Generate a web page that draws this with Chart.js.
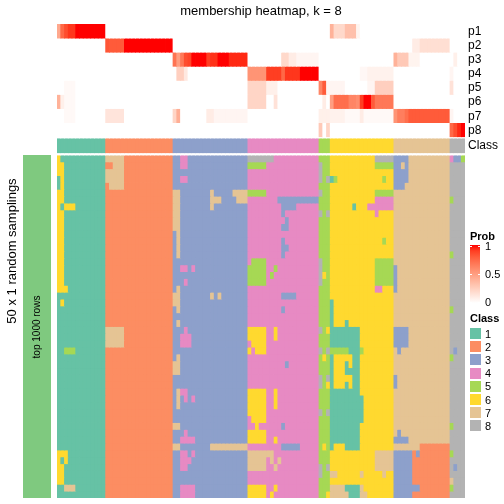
<!DOCTYPE html>
<html lang="en">
<head>
  <meta charset="UTF-8" />
  <title>membership heatmap, k = 8</title>
  <script src="https://cdn.jsdelivr.net/npm/chart.js"></script>
  <style>
    body {
      margin: 0;
      background: #ffffff;
      font-family: 'Liberation Sans', Arial, sans-serif;
      color: #000;
    }

    #wrap {
      position: relative;
      width: 504px;
      height: 504px;
      overflow: hidden;
    }

    canvas {
      position: absolute;
      left: 0;
      top: 0;
    }

    .txt {
      position: absolute;
      white-space: nowrap;
      line-height: 1;
    }

    .rowlab {
      left: 468px;
      font-size: 12px;
      transform: translateY(-50%);
    }

    .rot {
      transform: translate(-50%, -50%) rotate(-90deg);
    }

    .legtitle {
      left: 470px;
      font-size: 11px;
      font-weight: bold;
    }

    .legtick {
      left: 485px;
      font-size: 11px;
      transform: translateY(-50%);
    }

    .swatch {
      position: absolute;
      left: 470px;
      width: 11px;
      height: 11px;
    }
  </style>
</head>
<body>

  <div id="wrap">
    <canvas id="annoChart" width="504" height="504"></canvas>
    <canvas id="heatChart" width="504" height="504"></canvas>

    <div class="txt" style="left:261px; top:4px; font-size:13px; transform:translateX(-50%);">membership heatmap, k = 8</div>
    <div class="txt rot" style="left:11px; top:251px; font-size:13px;">50 x 1 random samplings</div>
    <div class="txt rot" style="left:37px; top:327px; font-size:10px;">top 1000 rows</div>

    <div id="labels"></div>
    <div id="legend"></div>
  </div>

  <script>
    // ---- data ----
    const rowNames = ['p1', 'p2', 'p3', 'p4', 'p5', 'p6', 'p7', 'p8'];
    const classNames = ['1', '2', '3', '4', '5', '6', '7', '8'];
    const classColors = ['#66C2A5', '#FC8D62', '#8DA0CB', '#E78AC3', '#A6D854', '#FFD92F', '#E5C494', '#B3B3B3'];
    const probTicks = ['1', '0.5', '0'];

    // consensus class of each column, as [class, how many columns]
    const classBlocks = [[1, 13], [2, 18], [3, 20], [4, 19], [5, 3], [6, 17], [7, 15], [8, 4]];

    // membership probability, per row: [fromCol, toCol, prob]; everything else is 0
    const p1 = [[0,0,0.45],[1,1,0.75],[2,2,0.85],[3,4,0.92],[5,12,1],[73,73,0.4],[74,76,0.2],[77,79,0.33],[80,80,0.06]];
    const p2 = [[13,13,0.82],[14,17,0.8],[18,30,1],[95,96,0.1],[97,104,0.17]];
    const p3 = [[31,31,0.7],[32,32,0.5],[33,33,0.68],[34,34,0.85],[35,35,0.88],[36,39,1],[40,40,0.9],[41,42,0.93],[43,45,1],[46,50,0.95],
                [60,61,0.2],[62,63,0.1],[64,69,0.05],[90,90,0.4],[91,93,0.28],[94,96,0.06],[106,106,0.08]];
    const p4 = [[32,33,0.25],[34,34,0.12],[51,55,0.55],[56,59,0.9],[60,60,0.75],[61,64,0.92],[65,69,1],[81,82,0.04],[83,89,0.07],[105,105,0.05]];
    const p5 = [[2,4,0.03],[51,55,0.22],[56,58,0.08],[70,70,0.62],[71,71,0.8],[72,72,0.05],[73,76,0.05],[83,84,0.05],[85,89,0.25],[105,105,0.15]];
    const p6 = [[0,0,0.4],[1,1,0.08],[2,4,0.03],[51,55,0.22],[58,58,0.15],[71,71,0.1],[73,73,0.5],[74,77,0.72],[78,79,0.62],[80,80,0.58],
                [81,81,0.9],[82,83,1],[84,84,0.8],[85,89,0.68]];
    const p7 = [[2,4,0.03],[13,17,0.14],[31,31,0.22],[32,32,0.42],[40,41,0.1],[42,50,0.05],[70,72,0.08],[73,76,0.07],[77,80,0.03],[81,81,0.1],
                [82,89,0.03],[90,90,0.55],[91,92,0.65],[93,93,0.72],[94,104,0.8],[105,105,0.05]];
    const p8 = [[70,70,0.28],[72,72,0.22],[105,105,0.75],[106,106,0.85],[107,107,0.95],[108,108,1]];

    // 50 samplings: where a row differs from the consensus class, [row, fromCol, toCol, class]
    const samplingPatches = [
      [0,0,0,6],[0,13,17,7],[0,33,34,4],[0,51,57,8],[0,85,89,8],[0,90,93,3],[0,105,105,4],[0,106,107,3],[0,108,108,5],
      [1,0,1,6],[1,15,17,7],[1,33,34,4],[1,51,55,5],[1,70,70,8],[1,85,89,5],[1,90,91,3],[1,93,93,3],
      [2,0,1,6],[2,13,17,7],[2,70,70,8],[2,90,93,3],
      [3,1,1,6],[3,13,17,7],[3,33,34,4],[3,70,70,8],[3,72,72,8],[3,73,73,1],[3,74,74,5],[3,87,87,5],[3,90,93,3],
      [4,1,1,6],[4,14,17,7],[4,90,92,3],
      [5,0,1,6],[5,31,32,7],[5,41,41,7],[5,47,50,7],[5,51,55,5],[5,70,70,8],[5,85,89,5],
      [6,0,1,6],[6,31,32,7],[6,41,43,7],[6,48,50,7],[6,59,69,3],[6,85,89,4],[6,105,105,5],
      [7,0,0,6],[7,2,4,6],[7,31,32,7],[7,41,41,7],[7,60,63,3],[7,79,79,1],[7,83,89,4],
      [8,0,1,6],[8,31,32,7],[8,60,60,3],[8,70,70,8],[8,72,72,8],[8,85,85,4],
      [9,0,1,6],[9,31,32,7],[9,61,61,3],
      [10,0,1,6],[10,31,32,7],[10,60,61,3],
      [11,0,1,6],[11,32,32,7],
      [12,0,1,6],[12,32,32,7],[12,60,60,3],[12,87,87,5],
      [13,0,1,6],[13,32,32,7],[13,60,61,3],
      [14,0,1,6],[14,32,32,7],[14,60,60,3],[14,105,105,5],
      [15,0,1,6],[15,52,55,5],[15,70,70,8],[15,85,89,5],
      [16,0,1,6],[16,33,34,4],[16,36,36,4],[16,51,55,5],[16,58,58,5],[16,70,70,8],[16,85,89,5],[16,90,90,3],
      [17,0,1,6],[17,51,55,5],[17,57,57,5],[17,70,70,8],[17,71,71,6],[17,85,89,5],[17,90,90,3],
      [18,0,1,6],[18,34,34,4],[18,51,55,5],[18,70,70,8],[18,85,89,5],[18,90,90,3],
      [19,0,2,6],[19,32,32,7],[19,85,86,4],[19,90,90,3],
      [20,31,32,7],[20,41,41,7],[20,43,43,7],[20,60,63,3],
      [21,1,1,6],[21,31,32,7],[21,73,73,1],
      [22,32,32,7],[22,60,60,3],[22,73,73,1],[22,105,105,5],
      [23,73,73,1],
      [24,32,32,7],[24,73,73,1],[24,77,77,1],
      [25,13,17,7],[25,34,34,4],[25,51,55,6],[25,58,58,6],[25,70,70,8],[25,72,72,6],[25,73,80,1],[25,90,93,3],
      [26,13,17,7],[26,33,35,4],[26,51,55,6],[26,58,58,6],[26,73,80,1],[26,90,93,3],
      [27,13,17,7],[27,33,35,4],[27,52,55,6],[27,73,80,1],[27,90,93,3],
      [28,2,4,5],[28,51,51,6],[28,53,55,6],[28,70,70,8],[28,72,72,8],[28,73,77,5],[28,78,80,1],[28,81,81,5],[28,91,91,3],[28,106,106,3],
      [29,32,32,7],[29,71,71,6],[29,73,73,1],[29,79,80,1],[29,105,105,5],
      [30,31,32,7],[30,61,61,3],[30,73,73,1],[30,77,77,1],[30,79,80,1],
      [31,31,32,7],[31,73,73,1],[31,77,80,1],
      [32,70,70,8],[32,72,72,8],[32,73,73,1],[32,79,80,1],[32,90,90,3],
      [33,70,70,8],[33,72,72,6],[33,73,73,1],[33,77,77,1],[33,79,80,1],[33,90,90,3],
      [34,32,32,7],[34,33,34,4],[34,51,55,6],[34,58,58,6],[34,73,80,1],
      [35,32,32,7],[35,34,34,4],[35,36,36,4],[35,51,55,6],[35,58,58,6],[35,73,81,1],
      [36,32,32,7],[36,51,55,6],[36,58,58,6],[36,73,81,1],
      [37,51,55,6],[37,70,70,8],[37,72,72,8],[37,73,81,1],
      [38,52,55,6],[38,73,81,1],
      [39,31,32,7],[39,53,53,6],[39,60,60,3],[39,73,80,1],[39,105,105,5],
      [40,34,34,4],[40,51,55,6],[40,73,80,1],[40,91,91,3],
      [41,33,36,4],[41,51,55,6],[41,58,58,6],[41,73,80,1],[41,90,93,3],
      [42,31,32,7],[42,41,50,7],[42,60,64,3],[42,71,71,6],[42,73,73,1],[42,77,80,1],[42,97,104,2],
      [43,0,2,6],[43,33,34,4],[43,36,36,4],[43,51,57,7],[43,85,89,7],[43,90,94,3],[43,95,95,2],[43,96,96,3],[43,97,104,2],[43,105,105,5],
      [44,0,0,6],[44,2,2,6],[44,33,35,4],[44,51,55,7],[44,57,57,7],[44,59,59,7],[44,85,89,7],[44,90,94,3],[44,95,104,2],
      [45,0,1,6],[45,33,34,4],[45,51,55,7],[45,58,58,7],[45,70,70,8],[45,72,72,8],[45,85,89,7],[45,90,94,3],[45,95,104,2],[45,106,106,3],
      [46,0,1,6],[46,70,70,8],[46,73,74,7],[46,81,81,7],[46,87,87,7],[46,90,94,3],[46,95,104,2],
      [47,0,1,6],[47,90,94,3],[47,95,104,2],[47,105,105,7],
      [48,2,4,7],[48,33,36,4],[48,51,55,6],[48,58,58,6],[48,73,76,7],[48,77,80,1],[48,81,81,7],[48,90,96,3],[48,97,104,2],[48,105,105,5],
      [49,33,36,4],[49,51,55,6],[49,57,57,6],[49,72,72,6],[49,73,77,7],[49,78,80,1],[49,81,82,7],[49,90,94,3],[49,95,104,2]
    ];
    const nSamplings = 50;

    // ---- layout (pixels) ----
    const ROW_H = 14.09, GAP1 = 1.3, CLASS_H = 14.7, GAP2 = 2.3, CELL_H = 6.86;
    const TOTAL = ROW_H * 8 + GAP1 + CLASS_H + GAP2 + CELL_H * nSamplings;

    // white -> red in LAB, like the original colour ramp
    function toLin(c) { c /= 255; return c <= 0.04045 ? c / 12.92 : Math.pow((c + 0.055) / 1.055, 2.4); }
    function toLab(r, g, b) {
      const R = toLin(r), G = toLin(g), B = toLin(b);
      const X = (0.4124 * R + 0.3576 * G + 0.1805 * B) / 0.95047;
      const Y = 0.2126 * R + 0.7152 * G + 0.0722 * B;
      const Z = (0.0193 * R + 0.1192 * G + 0.9505 * B) / 1.08883;
      const f = t => t > 0.008856 ? Math.cbrt(t) : 7.787 * t + 16 / 116;
      return [116 * f(Y) - 16, 500 * (f(X) - f(Y)), 200 * (f(Y) - f(Z))];
    }
    function fromLab(L, a, b) {
      const fy = (L + 16) / 116, fx = fy + a / 500, fz = fy - b / 200;
      const inv = t => t * t * t > 0.008856 ? t * t * t : (t - 16 / 116) / 7.787;
      const X = inv(fx) * 0.95047, Y = inv(fy), Z = inv(fz) * 1.08883;
      const R = 3.2406 * X - 1.5372 * Y - 0.4986 * Z;
      const G = -0.9689 * X + 1.8758 * Y + 0.0415 * Z;
      const B = 0.0557 * X - 0.2040 * Y + 1.0570 * Z;
      const g = c => { c = Math.min(1, Math.max(0, c)); return Math.round(255 * (c <= 0.0031308 ? 12.92 * c : 1.055 * Math.pow(c, 1 / 2.4) - 0.055)); };
      return 'rgb(' + g(R) + ',' + g(G) + ',' + g(B) + ')';
    }
    const labWhite = toLab(255, 255, 255), labRed = toLab(255, 0, 0);
    function probColor(v) {
      return fromLab(
        labWhite[0] + (labRed[0] - labWhite[0]) * v,
        labWhite[1] + (labRed[1] - labWhite[1]) * v,
        labWhite[2] + (labRed[2] - labWhite[2]) * v
      );
    }

    // ---- build the tables ----
    const colClass = [];
    classBlocks.forEach(([c, n]) => { for (let i = 0; i < n; i++) colClass.push(c); });
    const nCols = colClass.length;
    const colLabels = colClass.map((c, i) => 'S' + (i + 1));

    const probRows = [p1, p2, p3, p4, p5, p6, p7, p8].map(runs => {
      const row = new Array(nCols).fill(0);
      runs.forEach(([a, b, v]) => { for (let i = a; i <= b; i++) row[i] = v; });
      return row;
    });

    const samplings = [];
    for (let r = 0; r < nSamplings; r++) samplings.push(colClass.slice());
    samplingPatches.forEach(([r, a, b, c]) => { for (let i = a; i <= b; i++) samplings[r][i] = c; });

    const datasets = [];
    function addRow(h, colors) {
      datasets.push({ data: new Array(nCols).fill(h), backgroundColor: colors });
    }
    probRows.forEach(row => addRow(ROW_H, row.map(probColor)));
    addRow(GAP1, '#ffffff');
    addRow(CLASS_H, colClass.map(c => classColors[c - 1]));
    addRow(GAP2, '#ffffff');
    samplings.forEach(row => addRow(CELL_H, row.map(c => classColors[c - 1])));

    const hidden = { display: false };

    new Chart(document.getElementById('heatChart'), {
      type: 'bar',
      data: { labels: colLabels, datasets: datasets },
      options: {
        responsive: false,
        animation: false,
        events: [],
        layout: { padding: { left: 57, right: 39, top: 24, bottom: 6 } },
        plugins: { legend: hidden, tooltip: { enabled: false } },
        datasets: { bar: { barPercentage: 1, categoryPercentage: 1, borderWidth: 0, inflateAmount: 0.4 } },
        scales: {
          x: { stacked: true, display: false },
          y: { stacked: true, display: false, reverse: true, min: 0, max: TOTAL }
        }
      }
    });

    // left annotation bar
    new Chart(document.getElementById('annoChart'), {
      type: 'bar',
      data: { labels: ['top 1000 rows'], datasets: [{ data: [1], backgroundColor: '#7FC97F' }] },
      options: {
        responsive: false,
        animation: false,
        events: [],
        layout: { padding: { left: 23, right: 453, top: 155, bottom: 6 } },
        plugins: { legend: hidden, tooltip: { enabled: false } },
        datasets: { bar: { barPercentage: 1, categoryPercentage: 1, borderWidth: 0 } },
        scales: { x: hidden, y: { display: false, min: 0, max: 1 } }
      }
    });

    // row labels
    const labels = document.getElementById('labels');
    rowNames.forEach((name, k) => {
      const d = document.createElement('div');
      d.className = 'txt rowlab';
      d.style.top = (24 + ROW_H * (k + 0.5)) + 'px';
      d.textContent = name;
      labels.appendChild(d);
    });
    const cl = document.createElement('div');
    cl.className = 'txt rowlab';
    cl.style.top = (24 + ROW_H * 8 + GAP1 + CLASS_H / 2) + 'px';
    cl.textContent = 'Class';
    labels.appendChild(cl);

    // legends
    const legend = document.getElementById('legend');
    function addDiv(cls, css, text) {
      const d = document.createElement('div');
      d.className = cls;
      d.style.cssText = css;
      if (text) d.textContent = text;
      legend.appendChild(d);
      return d;
    }
    addDiv('txt legtitle', 'top:231px;', 'Prob');
    const stops = [];
    for (let i = 0; i <= 10; i++) stops.push(probColor(1 - i / 10));
    addDiv('', 'position:absolute;left:470px;top:245px;width:10px;height:58px;background:linear-gradient(to bottom,' + stops.join(',') + ');');
    probTicks.forEach((t, i) => {
      const y = 246 + i * 28;
      addDiv('', 'position:absolute;left:470px;width:2px;height:1px;background:#fff;top:' + y + 'px;');
      addDiv('', 'position:absolute;left:478px;width:2px;height:1px;background:#fff;top:' + y + 'px;');
      addDiv('txt legtick', 'top:' + y + 'px;', t);
    });
    addDiv('txt legtitle', 'top:313px;', 'Class');
    classNames.forEach((n, i) => {
      const y = 328 + i * 13.2;
      addDiv('swatch', 'top:' + y + 'px;background:' + classColors[i] + ';');
      addDiv('txt legtick', 'top:' + (y + 5.5) + 'px;', n);
    });
  </script>

</body>
</html>
